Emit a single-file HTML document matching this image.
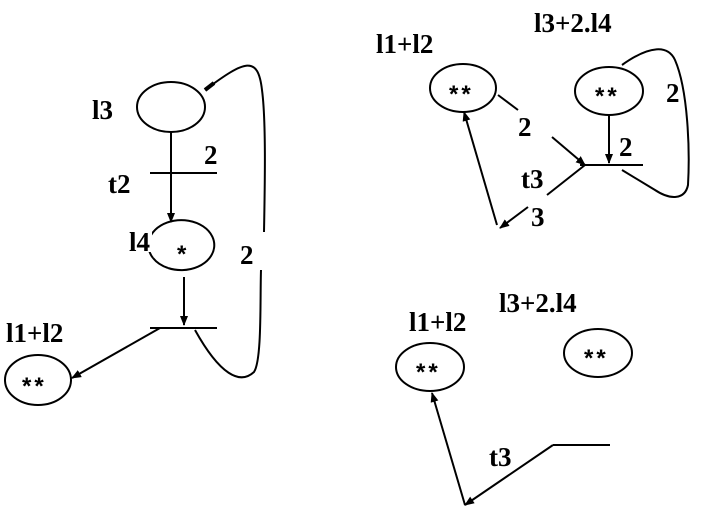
<!DOCTYPE html>
<html><head><meta charset="utf-8"><style>
html,body{margin:0;padding:0;background:#fff;}
svg text{font-family:"Liberation Serif",serif;font-weight:bold;font-size:27px;fill:#000;}
svg text.s{font-family:"Liberation Sans",sans-serif;font-weight:bold;font-size:24px;letter-spacing:3px;}
</style></head><body>
<svg width="703" height="515" viewBox="0 0 703 515" xmlns="http://www.w3.org/2000/svg">
<defs><marker id="a" markerWidth="10" markerHeight="8" refX="9" refY="4" orient="auto" markerUnits="userSpaceOnUse"><path d="M0,0 L10,4 L0,8 z" fill="#000"/></marker></defs>
<g fill="none" stroke="#000" stroke-width="2">
<ellipse cx="171" cy="107" rx="34" ry="25"/>
<line x1="171" y1="132" x2="171" y2="222" marker-end="url(#a)"/>
<line x1="150" y1="173" x2="217" y2="173"/>
<path d="M153,258 A33,25 0 1 1 168,268"/>
<path d="M153,258 A33,25 0 0 0 168,268"/>
<line x1="184" y1="277" x2="184" y2="325" marker-end="url(#a)"/>
<line x1="150" y1="328" x2="217" y2="328"/>
<line x1="160" y1="328" x2="72" y2="378" marker-end="url(#a)"/>
<ellipse cx="38" cy="380" rx="33" ry="25"/>
<path d="M195,330 C220,375 240,385 254,372 C262,360 260,300 261,270"/>
<path d="M264,232 C265,180 266,120 262,90 C258,55 245,60 205,90"/>
<line x1="205" y1="90" x2="214" y2="83" stroke-width="4"/>
<ellipse cx="463" cy="88" rx="33" ry="24"/>
<ellipse cx="609" cy="91" rx="34" ry="24"/>
<line x1="498" y1="95" x2="518" y2="110"/>
<line x1="552" y1="137" x2="585" y2="165" marker-end="url(#a)"/>
<line x1="580" y1="165" x2="643" y2="165"/>
<line x1="609" y1="115" x2="609" y2="163" marker-end="url(#a)"/>
<path d="M622,65 C650,45 668,45 675,60 C688,90 690,150 688,185 C685,200 670,200 655,190 L622,170"/>
<line x1="585" y1="165" x2="547" y2="195"/>
<line x1="528" y1="207" x2="500" y2="228" marker-end="url(#a)"/>
<line x1="497" y1="225" x2="464" y2="112" marker-end="url(#a)"/>
<ellipse cx="430" cy="367" rx="34" ry="24"/>
<ellipse cx="598" cy="353" rx="34" ry="24"/>
<line x1="553" y1="445" x2="610" y2="445"/>
<line x1="553" y1="445" x2="465" y2="505" marker-end="url(#a)"/>
<line x1="465" y1="505" x2="432" y2="393" marker-end="url(#a)"/>
</g>
<rect x="128" y="226" width="24" height="26" fill="#fff"/>
<text x="92" y="119">l3</text>
<text x="204" y="164">2</text>
<text x="108" y="193">t2</text>
<text x="129" y="251">l4</text>
<text class="s" x="177" y="262">*</text>
<text x="240" y="264">2</text>
<text x="6" y="342">l1+l2</text>
<text class="s" x="22" y="394">**</text>
<text x="376" y="53">l1+l2</text>
<text x="534" y="32">l3+2.l4</text>
<text class="s" x="449" y="102">**</text>
<text class="s" x="595" y="104">**</text>
<text x="666" y="102">2</text>
<text x="518" y="136">2</text>
<text x="619" y="156">2</text>
<text x="521" y="188">t3</text>
<text x="531" y="226">3</text>
<text x="409" y="331">l1+l2</text>
<text x="499" y="312">l3+2.l4</text>
<text class="s" x="416" y="380">**</text>
<text class="s" x="584" y="366">**</text>
<text x="489" y="466">t3</text>
</svg>
</body></html>
